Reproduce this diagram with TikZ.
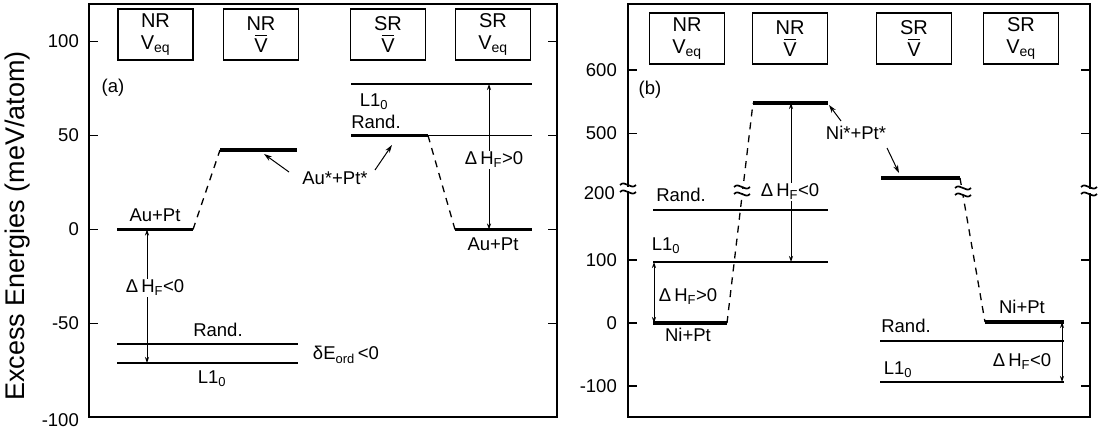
\documentclass[tikz,border=0pt]{standalone}
\usepackage{fontspec}
\setmainfont{Liberation Sans}
\usetikzlibrary{arrows.meta}
\newlength\vbw
\newcommand\myVbar{\settowidth\vbw{V}\rlap{\hbox to\vbw{\hss\smash{\raisebox{\dimexpr\fontcharht\font`V+2.5pt\relax}{\vrule width .85\vbw height 1.4pt depth 0pt}}\hss}}V}
\begin{document}
\begin{tikzpicture}[x=1pt,y=-1pt,
  frame/.style={line width=1.8pt},
  tickmk/.style={line width=1.6pt},
  lvl/.style={line width=1.9pt},
  thinlvl/.style={line width=1.4pt},
  thicklvl/.style={line width=3.2pt},
  conn/.style={dash pattern=on 7pt off 6pt, line width=1.3pt},
  dbl/.style={{Stealth[length=6pt,width=4pt]}-{Stealth[length=6pt,width=4pt]}, line width=0.8pt},
  ptr/.style={-{Stealth[length=8pt,width=5pt]}, line width=1pt},
  txt/.style={font=\fontsize{18.5}{20}\selectfont, inner sep=1pt},
  wtxt/.style={txt, fill=white},
  boxs/.style={draw, line width=1.2pt, minimum width=75pt, minimum height=51pt, align=center, font=\fontsize{20}{22}\selectfont, inner sep=0pt},
  tl/.style={font=\fontsize{18.5}{20}\selectfont, anchor=east, inner sep=0pt},
  brkmark/.pic={
    \fill[white] (-9,-1.5) rectangle (9,2.5);
    \draw[line width=1.7pt] (-8,-3) .. controls (-3,-8.5) and (3,2.5) .. (8,-3);
    \draw[line width=1.7pt] (-8,4) .. controls (-3,-1.5) and (3,9.5) .. (8,4);
  }
]
\useasboundingbox (0,0) rectangle (1106,433);

% ---------------- axis label
\node[rotate=90, font=\fontsize{27}{27}\selectfont, inner sep=0pt] (ylab) at (18,226) {Excess Energies (meV/atom)};

% ---------------- panel (a)
\draw[frame] (89,4) rectangle (557,417);
\foreach \v in {100,50,0,-50} {
  \draw[tickmk] (89,229.5-1.88*\v) -- ++(9,0);
  \draw[tickmk] (557,229.5-1.88*\v) -- ++(-9,0);
  \node[tl] (ta\v) at (79,229.5-1.88*\v) {\v};
}
\node[tl] (tam100) at (79,420) {-100};

\node[boxs] (a1) at (155.5,34.5) {NR\\V\textsubscript{eq}};
\node[boxs] (a2) at (261,34.5) {NR\\\myVbar};
\node[boxs] (a3) at (388,34.5) {SR\\\myVbar};
\node[boxs] (a4) at (493,34.5) {SR\\V\textsubscript{eq}};
\node[txt] (alab) at (113,88) {(a)};

% levels
\coordinate (aAuL) at (117,229.5);  \coordinate (aAuR) at (193,229.5);
\coordinate (aRnL) at (117,344);    \coordinate (aRnR) at (298,344);
\coordinate (aLoL) at (117,363);    \coordinate (aLoR) at (298,363);
\coordinate (aStL) at (220,150);    \coordinate (aStR) at (297,150);
\coordinate (aSLoL) at (351,84);    \coordinate (aSLoR) at (532,84);
\coordinate (aSRnL) at (351,135.5); \coordinate (aSRnM) at (428,135.5); \coordinate (aSRnR) at (532,135.5);
\coordinate (aSAuL) at (455,229.5); \coordinate (aSAuR) at (532,229.5);

\draw[thicklvl] (aAuL) -- (aAuR);
\draw[lvl] (aRnL) -- (aRnR);
\draw[lvl] (aLoL) -- (aLoR);
\draw[thicklvl] (aStL) -- (aStR);
\draw[lvl] (aSLoL) -- (aSLoR);
\draw[thicklvl] (aSRnL) -- (aSRnM);
\draw[lvl] (aSRnM) -- (aSRnR);
\draw[thicklvl] (aSAuL) -- (aSAuR);

\draw[conn] (aAuR) -- (aStL);
\draw[conn] (aSRnM) -- (aSAuL);

\coordinate (aA1t) at (147,229.5); \coordinate (aA1b) at (147,363);
\draw[dbl] (aA1t) -- (aA1b);
\coordinate (aA2t) at (489,84); \coordinate (aA2b) at (489,229.5);
\draw[dbl] (aA2t) -- (aA2b);

\node[txt] (aAuLab) at (155,215) {Au+Pt};
\node[txt] (aRnLab) at (218,330) {Rand.};
\node[txt] (aLoLab) at (212,379) {L1\textsubscript{0}};
\node[wtxt] (aH1) at (155,288) {Δ\,H\textsubscript{F}<0};
\node[txt] (aDE) at (346,355) {δE\textsubscript{ord}\,<0};
\node[txt] (aSLoLab) at (374,102) {L1\textsubscript{0}};
\node[txt] (aSRnLab) at (376,122) {Rand.};
\node[txt] (aSAuLab) at (493,244) {Au+Pt};
\node[wtxt] (aH2) at (494,160) {Δ\,H\textsubscript{F}>0};
\node[txt] (aStar) at (335,178) {Au*+Pt*};
\coordinate (aP1s) at (289,172); \coordinate (aP1e) at (264,154);
\coordinate (aP2s) at (375,170); \coordinate (aP2e) at (392,145);
\draw[ptr] (aP1s) -- (aP1e);
\draw[ptr] (aP2s) -- (aP2e);

% ---------------- panel (b)
\draw[frame] (628,4) rectangle (1090,417);
\foreach \d/\l in {400/600,300/500,100/100,0/0,-100/-100} {
  \draw[tickmk] (628,323-0.632*\d) -- ++(9,0);
  \draw[tickmk] (1090,323-0.632*\d) -- ++(-9,0);
  \node[tl] (tb\l) at (617,323-0.632*\d) {\l};
}
\node[tl] (tb200) at (615,193) {200};
\pic at (628,188) {brkmark};
\pic at (1089,190) {brkmark};

\node[boxs] (b1) at (687,38.5) {NR\\V\textsubscript{eq}};
\node[boxs] (b2) at (790,38.5) {NR\\\myVbar};
\node[boxs] (b3) at (914,38.5) {SR\\\myVbar};
\node[boxs] (b4) at (1021,38.5) {SR\\V\textsubscript{eq}};
\node[txt] (blab) at (650,90) {(b)};

\coordinate (bTopL) at (753,103);   \coordinate (bTopR) at (828,103);
\coordinate (bRnL) at (653,210);    \coordinate (bRnR) at (828,210);
\coordinate (bLoL) at (653,262);    \coordinate (bLoR) at (828,262);
\coordinate (bNiL) at (653,323);    \coordinate (bNiR) at (727,323);
\coordinate (bSVL) at (881,178);    \coordinate (bSVR) at (960,178);
\coordinate (bSNiL) at (985,322);   \coordinate (bSNiR) at (1064,322);
\coordinate (bSRnL) at (880,341);   \coordinate (bSRnR) at (1064,341);
\coordinate (bSLoL) at (880,382);   \coordinate (bSLoR) at (1064,382);

\draw[thicklvl] (bTopL) -- (bTopR);
\draw[lvl] (bRnL) -- (bRnR);
\draw[lvl] (bLoL) -- (bLoR);
\draw[thicklvl] (bNiL) -- (bNiR);
\draw[thicklvl] (bSVL) -- (bSVR);
\draw[thicklvl] (bSNiL) -- (bSNiR);
\draw[thinlvl] (bSRnL) -- (bSRnR);
\draw[lvl] (bSLoL) -- (bSLoR);

\draw[conn] (bNiR) -- (bTopL);
\draw[conn] (bSVR) -- (bSNiL);
\pic at (742,190) {brkmark};
\pic at (963,191) {brkmark};

\coordinate (bA1t) at (791,103); \coordinate (bA1b) at (791,262);
\draw[dbl] (bA1t) -- (bA1b);
\coordinate (bA2t) at (654,262); \coordinate (bA2b) at (654,323);
\draw[dbl] (bA2t) -- (bA2b);
\coordinate (bA3t) at (1062,322); \coordinate (bA3b) at (1062,382);
\draw[dbl] (bA3t) -- (bA3b);

\node[wtxt] (bH1) at (790,192) {Δ\,H\textsubscript{F}<0};
\node[txt] (bRnLab) at (681,195) {Rand.};
\node[txt] (bLoLab) at (666,246) {L1\textsubscript{0}};
\node[txt] (bNiLab) at (688,335) {Ni+Pt};
\node[txt] (bH2) at (688,297) {Δ\,H\textsubscript{F}>0};
\node[txt] (bStar) at (856,133) {Ni*+Pt*};
\coordinate (bP1s) at (841,121); \coordinate (bP1e) at (829,105);
\coordinate (bP2s) at (887,148); \coordinate (bP2e) at (899,173);
\draw[ptr] (bP1s) -- (bP1e);
\draw[ptr] (bP2s) -- (bP2e);
\node[txt] (bSNiLab) at (1022,307) {Ni+Pt};
\node[txt] (bSRnLab) at (906,326) {Rand.};
\node[txt] (bSLoLab) at (898,370) {L1\textsubscript{0}};
\node[txt] (bH3) at (1022,362) {Δ\,H\textsubscript{F}<0};
\end{tikzpicture}
\end{document}
